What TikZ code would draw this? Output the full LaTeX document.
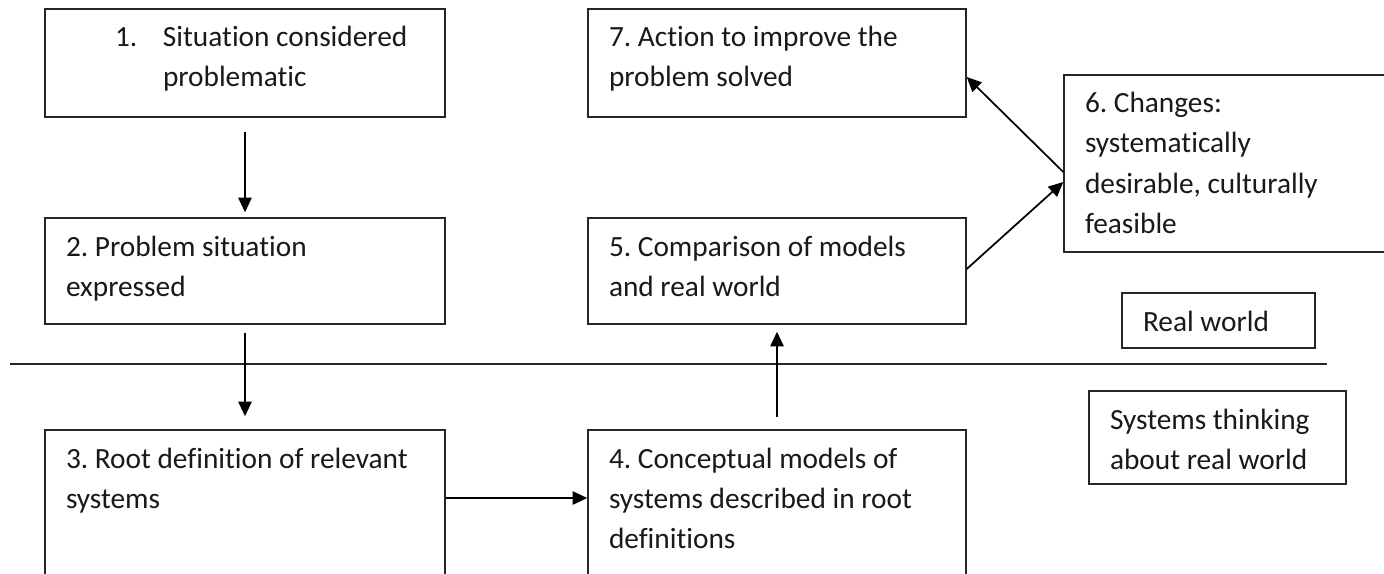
\documentclass[tikz,border=0pt]{standalone}
\usepackage{fontspec}
\setmainfont{Carlito}[Ligatures=NoCommon]
\usepackage{tikz}
\usetikzlibrary{calc}
\usetikzlibrary{arrows.meta}
\frenchspacing
\newcommand*{\boxtxt}[3]{\parbox[c][\dimexpr0.75pt*(#2-20)\relax][t]{\dimexpr0.75pt*(#1-42)\relax}{\raggedright\strut#3}}
\tikzstyle{stepbox}=[text=black!90, draw=black!85, line width=1.1pt, shape=rectangle, fill=white, inner xsep=15.75pt, inner ysep=7.5pt, font=\fontsize{22pt}{30pt}\selectfont]
\tikzstyle{flow}=[-{Triangle[length=11pt, width=10pt]}, line width=1.3pt, color=black]

\begin{document}
\begin{tikzpicture}[x=0.75pt, y=-0.75pt]
\clip (0,0) rectangle (1384,574);
\node [stepbox] (s1) at (245,63) {\boxtxt{400}{108}{\hspace*{36.75pt}\makebox[36pt][l]{1.}Situation considered\\\hspace*{72.75pt}problematic}};
\node [stepbox] (s2) at (245,271) {\boxtxt{400}{106}{2. Problem situation\\expressed}};
\node [stepbox] (s3) at (245,515) {\boxtxt{400}{170}{3. Root definition of relevant\\systems}};
\node [stepbox] (s4) at (777,515) {\boxtxt{378}{170}{4. Conceptual models of\\systems described in root\\definitions}};
\node [stepbox] (s5) at (777,271) {\boxtxt{378}{106}{5. Comparison of models\\and real world}};
\node [stepbox] (s6) at (1242,163.5) {\boxtxt{356}{177}{6. Changes:\\systematically\\desirable, culturally\\feasible}};
\node [stepbox] (s7) at (777,63) {\boxtxt{378}{108}{7. Action to improve the\\problem solved}};
\node [stepbox] (real) at (1218.5,320.5) {\boxtxt{193}{55}{Real world}};
\node [stepbox] (think) at (1217.5,437.5) {\boxtxt{257}{93}{Systems thinking\\about real world}};

% real world / systems thinking divide
\draw [line width=1.1pt, color=black!85] (10,364) -- (1327,364);

\draw [flow, shorten <=10.5pt, shorten >=3.75pt] (s1.south) -- (s2.north);
\draw [flow, shorten <=6pt, shorten >=9.75pt] (s2.south) -- (s3.north);
\draw [flow] ($(s3.east)+(0,-17)$) -- ($(s4.west)+(0,-17)$);
\draw [flow, shorten <=9pt, shorten >=5.25pt] (s4.north) -- (s5.south);
\draw [flow] ($(s5.east)+(0,-2)$) -- ($(s6.west)+(0,18.5)$);
\draw [flow] ($(s6.west)+(0,8.5)$) -- ($(s7.east)+(0,14)$);
\end{tikzpicture}
\end{document}
